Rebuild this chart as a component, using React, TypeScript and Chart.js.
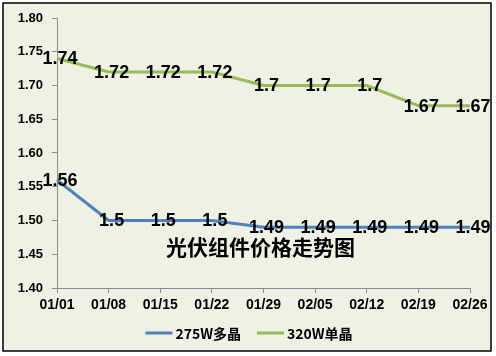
import React, { useEffect, useRef } from "react";
import { Chart, registerables } from "chart.js";

Chart.register(...registerables);

const categories = ["01/01", "01/08", "01/15", "01/22", "01/29", "02/05", "02/12", "02/19", "02/26"];
const poly275 = [1.56, 1.5, 1.5, 1.5, 1.49, 1.49, 1.49, 1.49, 1.49];
const mono320 = [1.74, 1.72, 1.72, 1.72, 1.7, 1.7, 1.7, 1.67, 1.67];
const seriesNames = ["275W多晶", "320W单晶"];
const yMin = 1.4;
const yMax = 1.8;
const yStep = 0.05;
const chartTitle = "光伏组件价格走势图";

const LATIN = '"Liberation Sans", Arial, "Noto Sans CJK SC", sans-serif';
const CJK = '"Noto Sans CJK SC", "Liberation Sans", sans-serif';

const framePlugin = {
  id: "frame",
  beforeDraw(chart: any) {
    const { ctx, width, height } = chart;
    ctx.save();
    ctx.fillStyle = "#ffffff";
    ctx.fillRect(0, 0, width, height);
    ctx.fillStyle = "#EEF1E3";
    ctx.fillRect(3, 3, 488, 348);
    ctx.strokeStyle = "#000000";
    ctx.lineWidth = 1.5;
    ctx.strokeRect(3, 3, 488, 348);
    ctx.restore();
  },
  afterDatasetsDraw(chart: any) {
    const { ctx, chartArea } = chart;
    ctx.save();
    ctx.fillStyle = "#000000";
    ctx.textAlign = "center";
    ctx.textBaseline = "middle";
    ctx.font = `bold 18px ${LATIN}`;
    chart.data.datasets.forEach((ds: any, i: number) => {
      const meta = chart.getDatasetMeta(i);
      meta.data.forEach((pt: any, j: number) => {
        ctx.fillText(String(ds.data[j]), pt.x + 3, pt.y + 1);
      });
    });
    ctx.font = `bold 21px ${CJK}`;
    ctx.fillText(chartTitle, (chartArea.left + chartArea.right) / 2 - 3, chartArea.bottom - 41);

    // legend
    ctx.font = `bold 14px ${CJK}`;
    ctx.textAlign = "left";
    const lineW = 27;
    const gap = 3;
    const itemGap = 16;
    const items = chart.data.datasets.map((ds: any) => ({
      label: ds.label,
      color: ds.borderColor,
      w: ctx.measureText(ds.label).width,
    }));
    const total = items.reduce((s: number, it: any) => s + lineW + gap + it.w, 0) + itemGap * (items.length - 1);
    let x = 249 - total / 2;
    const y = 333;
    items.forEach((it: any) => {
      ctx.strokeStyle = it.color;
      ctx.lineWidth = 3;
      ctx.beginPath();
      ctx.moveTo(x, y);
      ctx.lineTo(x + lineW, y);
      ctx.stroke();
      ctx.fillText(it.label, x + lineW + gap, y + 1);
      x += lineW + gap + it.w + itemGap;
    });
    ctx.restore();
  },
};

export default function App() {
  const ref = useRef<HTMLCanvasElement | null>(null);
  useEffect(() => {
    if (!ref.current) return;
    const chart = new Chart(ref.current, {
      type: "line",
      data: {
        labels: categories,
        datasets: [
          {
            label: seriesNames[0],
            data: poly275,
            borderColor: "#4F81BD",
            backgroundColor: "#4F81BD",
            borderWidth: 3,
            pointRadius: 0,
            tension: 0,
          },
          {
            label: seriesNames[1],
            data: mono320,
            borderColor: "#9BBB59",
            backgroundColor: "#9BBB59",
            borderWidth: 3,
            pointRadius: 0,
            tension: 0,
          },
        ],
      },
      options: {
        animation: false,
        responsive: false,
        devicePixelRatio: 1,
        layout: { padding: { left: 3, right: 26, top: 18, bottom: 40 } },
        plugins: {
          tooltip: { enabled: false },
          title: { display: false },
          legend: { display: false },
        },
        scales: {
          x: {
            offset: false,
            grid: { drawOnChartArea: false, drawTicks: true, tickLength: 5, color: "#8c8c8c" },
            border: { display: true, color: "#8c8c8c" },
            ticks: {
              color: "#000000",
              font: { family: LATIN, size: 14, weight: "bold" },
              padding: 4,
              maxRotation: 0,
              autoSkip: false,
            },
            afterFit(scale: any) {
              scale.height = 28;
            },
          },
          y: {
            min: yMin,
            max: yMax,
            grid: { drawOnChartArea: false, drawTicks: true, tickLength: 5, color: "#8c8c8c" },
            border: { display: true, color: "#8c8c8c" },
            ticks: {
              stepSize: yStep,
              color: "#000000",
              font: { family: LATIN, size: 13, weight: "bold" },
              padding: 9,
              callback: (v: any) => Number(v).toFixed(2),
            },
            afterFit(scale: any) {
              scale.width = 54;
            },
          },
        },
      },
      plugins: [framePlugin],
    });
    return () => chart.destroy();
  }, []);
  return (
    <div style={{ position: "fixed", left: 0, top: 0, width: 496, height: 356 }}>
      <canvas ref={ref} width={496} height={356} style={{ display: "block", width: 496, height: 356 }} />
    </div>
  );
}
